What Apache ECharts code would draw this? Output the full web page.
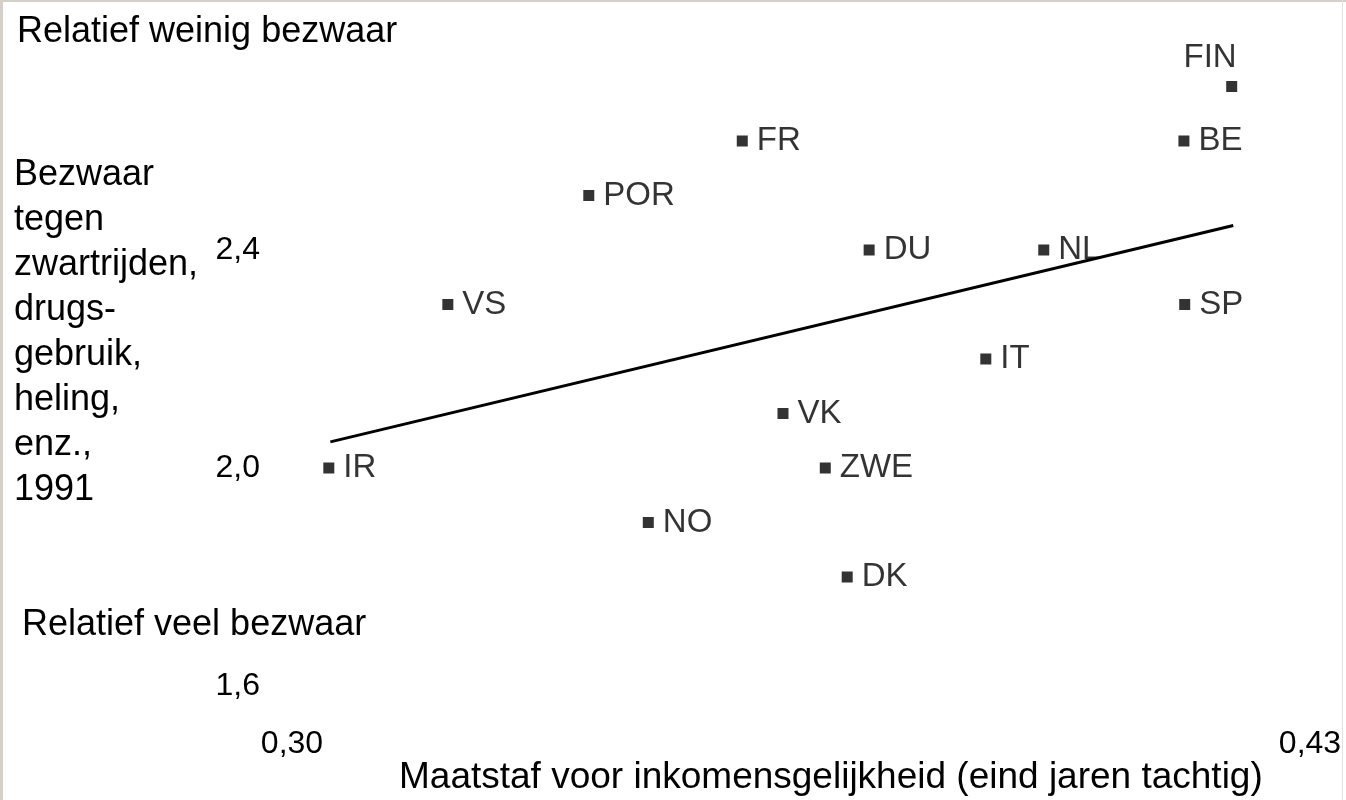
<!DOCTYPE html>
<html>
<head>
<meta charset="utf-8">
<script src="https://cdn.jsdelivr.net/npm/echarts@6/dist/echarts.min.js"></script>
<style>
html,body{margin:0;padding:0;background:#fff;}
#c{width:1346px;height:800px;}
</style>
</head>
<body>
<div id="c"></div>
<script>
const countries = ['IR','VS','POR','FR','NO','VK','ZWE','DK','DU','IT','NL','SP','BE','FIN'];
const inequality = [0.3047,0.3199,0.3379,0.3575,0.3455,0.3627,0.3681,0.3709,0.3737,0.3886,0.3960,0.4140,0.4139,0.4200];
const objection = [2.00,2.30,2.50,2.60,1.90,2.10,2.00,1.80,2.40,2.20,2.40,2.30,2.60,2.70];
const trendX = [0.3049,0.4202];
const trendY = [2.048,2.445];
const xTicks = [0.30,0.43];
const yTicks = [1.6,2.0,2.4];

const font = '"Liberation Sans", Arial, sans-serif';
const pts = countries.map((c,i)=>{
  const p = {name:c, value:[inequality[i], objection[i]]};
  if (c==='FIN') p.label = {position:'top', align:'right', offset:[5,2]};
  return p;
});

const chart = echarts.init(document.getElementById('c'), null, {renderer:'canvas'});
chart.setOption({
  backgroundColor:'#fff',
  animation:false,
  grid:{left:292, right:36, top:32, bottom:114, containLabel:false},
  xAxis:{
    type:'value', min:0.30, max:0.43, interval:0.01,
    axisLine:{show:false}, axisTick:{show:false}, splitLine:{show:false},
    axisLabel:{
      margin:42, color:'#000', fontSize:32, fontFamily:font,
      formatter: v => xTicks.some(t=>Math.abs(t-v)<1e-6) ? v.toFixed(2).replace('.', ',') : ''
    }
  },
  yAxis:{
    type:'value', min:1.6, max:2.8, interval:0.4,
    axisLine:{show:false}, axisTick:{show:false}, splitLine:{show:false},
    axisLabel:{
      margin:32, color:'#000', fontSize:32, fontFamily:font,
      formatter: v => yTicks.some(t=>Math.abs(t-v)<1e-6) ? v.toFixed(1).replace('.', ',') : ''
    }
  },
  series:[
    {
      type:'line', data: trendX.map((x,i)=>[x, trendY[i]]),
      symbol:'none', lineStyle:{color:'#000', width:3}, z:1
    },
    {
      type:'scatter', data: pts, symbol:'rect', symbolSize:11,
      itemStyle:{color:'#000'},
      label:{show:true, position:'right', distance:9, formatter:'{b}', color:'#000', fontSize:33, fontFamily:font},
      z:2
    }
  ],
  graphic:[
    {type:'rect', shape:{x:0,y:0,width:3,height:800}, style:{fill:'#d4d0c8'}},
    {type:'rect', shape:{x:0,y:0,width:1346,height:2}, style:{fill:'#d4d0c8'}},
    {type:'rect', shape:{x:1342,y:0,width:1,height:800}, style:{fill:'#e4e2dc'}},
    {type:'text', left:17, top:14, style:{text:'Relatief weinig bezwaar', fill:'#000', font:'36px '+font}},
    {type:'text', left:22, top:607, style:{text:'Relatief veel bezwaar', fill:'#000', font:'36px '+font}},
    {type:'text', left:14, top:153, style:{text:'Bezwaar\ntegen\nzwartrijden,\ndrugs-\ngebruik,\nheling,\nenz.,\n1991', fill:'#000', font:'36px '+font, lineHeight:45}},
    {type:'text', left:399, top:759, style:{text:'Maatstaf voor inkomensgelijkheid (eind jaren tachtig)', fill:'#000', font:'37px '+font}}
  ]
});
</script>
</body>
</html>
